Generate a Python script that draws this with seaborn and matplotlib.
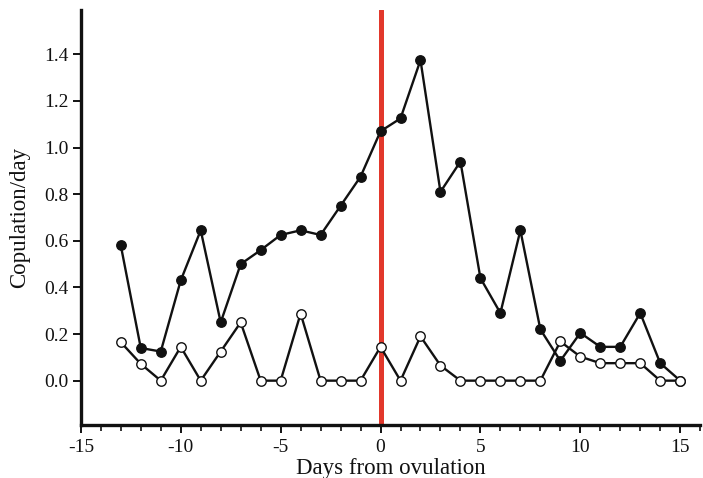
import matplotlib
matplotlib.use("Agg")
import matplotlib.pyplot as plt
from matplotlib.ticker import MultipleLocator
import seaborn as sns
import pandas as pd

days = list(range(-13, 16))
filled = [0.58, 0.14, 0.125, 0.43, 0.645, 0.25, 0.50, 0.56, 0.625, 0.645, 0.625,
          0.75, 0.875, 1.07, 1.125, 1.375, 0.81, 0.94, 0.44, 0.29, 0.645, 0.22,
          0.085, 0.205, 0.145, 0.145, 0.29, 0.075, 0.0]
open_ = [0.165, 0.072, 0.0, 0.145, 0.0, 0.125, 0.25, 0.0, 0.0, 0.288, 0.0,
         0.0, 0.0, 0.145, 0.0, 0.19, 0.065, 0.0, 0.0, 0.0, 0.0, 0.0,
         0.168, 0.103, 0.075, 0.075, 0.075, 0.0, 0.0]
y_ticks = [0.0, 0.2, 0.4, 0.6, 0.8, 1.0, 1.2, 1.4]
x_ticks = [-15, -10, -5, 0, 5, 10, 15]

df = pd.DataFrame({"day": days, "filled": filled, "open": open_})

sns.set_style("ticks")
plt.rcParams["font.family"] = ["Liberation Serif", "DejaVu Serif"]

fig = plt.figure(figsize=(7.03, 4.78), dpi=100)
ax = fig.add_axes([0.115, 0.111, 0.881, 0.868])

ink = "#111111"
ax.axvline(0, color="#e2382b", lw=3.6, zorder=1)
sns.lineplot(data=df, x="day", y="filled", ax=ax, color=ink, lw=1.7,
             marker="o", markersize=6.8, markerfacecolor=ink,
             markeredgecolor=ink, markeredgewidth=1.0, zorder=3)
sns.lineplot(data=df, x="day", y="open", ax=ax, color=ink, lw=1.7,
             marker="o", markersize=6.8, markerfacecolor="white",
             markeredgecolor=ink, markeredgewidth=1.0, zorder=4)

ax.set_xlim(-15, 16)
ax.set_ylim(-0.19, 1.59)
ax.set_xticks(x_ticks)
ax.set_xticklabels([str(t) for t in x_ticks])
ax.xaxis.set_minor_locator(MultipleLocator(1))
ax.set_yticks(y_ticks)
ax.set_yticklabels([f"{t:.1f}" for t in y_ticks])

for s in ["top", "right"]:
    ax.spines[s].set_visible(False)
for s in ["left", "bottom"]:
    ax.spines[s].set_linewidth(2.4)
    ax.spines[s].set_color(ink)

ax.tick_params(axis="both", which="major", direction="out", length=6,
               width=1.4, color=ink, labelsize=14, labelcolor=ink, pad=3)
ax.tick_params(axis="x", which="major", pad=4)
ax.tick_params(axis="x", which="minor", direction="out", length=4,
               width=1.2, color=ink)

ax.set_xlabel("Days from ovulation", fontsize=16.5, color=ink, labelpad=1.5)
ax.set_ylabel("Copulation/day", fontsize=16.5, color=ink, labelpad=10)

fig.savefig("out.png", dpi=100)
